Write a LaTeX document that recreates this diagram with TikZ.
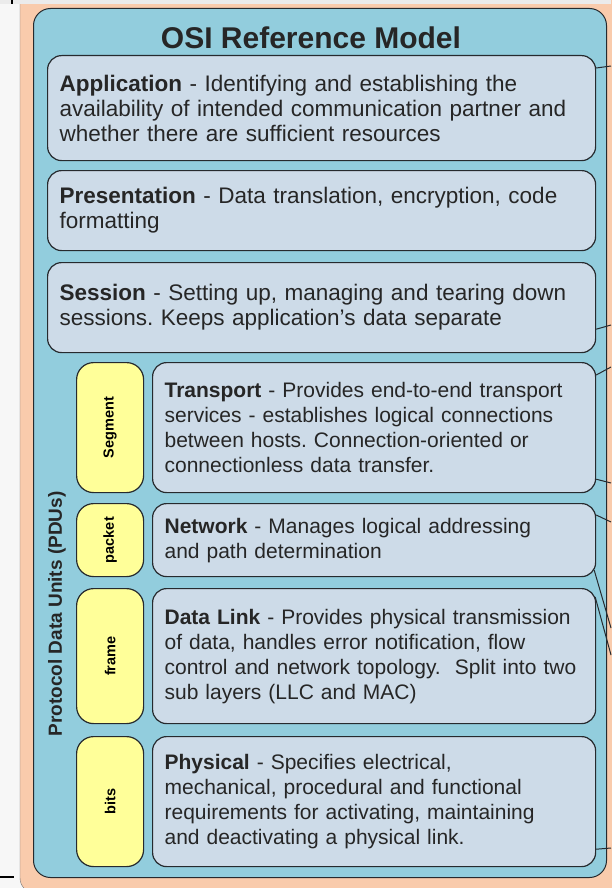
\documentclass[tikz,border=0pt]{standalone}
\usepackage{fontspec}
\usepackage{graphicx}
\setmainfont{Liberation Sans}
\usetikzlibrary{calc}
\definecolor{peach}{RGB}{249,203,172}
\definecolor{osiblue}{RGB}{146,205,221}
\definecolor{layerfill}{RGB}{205,219,232}
\definecolor{pduyellow}{RGB}{255,255,153}
\definecolor{edge}{RGB}{38,42,46}
\newcommand{\lay}[1]{\textbf{#1}}
\newcommand{\pdutext}[1]{\rotatebox{90}{#1}}
\tikzset{
  layer/.style={draw=edge, fill=layerfill, rounded corners=14pt, line width=1.2pt,
    anchor=north west, align=left, inner xsep=12pt, text=black!85,
    font=\fontsize{21}{25}\selectfont},
  toplayer/.style={layer, font=\fontsize{22.5}{25}\selectfont},
  pdu/.style={draw=edge, fill=pduyellow, rounded corners=17pt, line width=1.2pt,
    anchor=north west, minimum width=67pt, inner sep=0pt,
    font=\bfseries\fontsize{14.5}{16}\selectfont},
  link/.style={draw=edge, line width=1pt}
}
\frenchspacing

\begin{document}
\begin{tikzpicture}[x=1pt,y=-1pt]
\useasboundingbox (0,0) rectangle (611,888);
\fill [white!97!black] (0,0) rectangle (611,888);
\draw [fill=peach, draw=black!55, rounded corners=15pt] (20,-20) rectangle (640,893);
\fill [black!8] (0,0) rectangle (611,4);
\draw [line width=1.5pt] (12,0) -- (12,4);
\draw [line width=1.5pt] (0,877) -- (14,877);
\node [draw=edge, fill=osiblue, rounded corners=17pt, line width=1pt, anchor=north west,
  minimum width=573pt, minimum height=869pt, inner sep=0pt] (osi) at (33,8) {};
\node [font=\bfseries\fontsize{30}{31}\selectfont, text=black!85] (title) at (311,38) {OSI Reference Model};
% layers
\node [toplayer, text width=524pt, minimum height=105pt] (app) at (47,55)
  {\lay{Application} - Identifying and establishing the\\availability of intended communication partner and\\whether there are sufficient resources};
\node [toplayer, text width=524pt, minimum height=80pt] (pres) at (47,170)
  {\lay{Presentation} - Data translation, encryption, code\\formatting};
\node [toplayer, text width=524pt, minimum height=90pt] (sess) at (47,262)
  {\lay{Session} - Setting up, managing and tearing down\\sessions. Keeps application's data separate};
\node [layer, text width=419pt, minimum height=130pt] (trans) at (152,362)
  {\lay{Transport} - Provides end-to-end transport\\services - establishes logical connections\\between hosts. Connection-oriented or\\connectionless data transfer.};
\node [layer, text width=419pt, minimum height=73pt] (net) at (152,503)
  {\lay{Network} - Manages logical addressing\\and path determination};
\node [layer, text width=419pt, minimum height=135pt] (dlink) at (152,588)
  {\lay{Data Link} - Provides physical transmission\\of data, handles error notification, flow\\control and network topology.\ \ Split into two\\sub layers (LLC and MAC)};
\node [layer, text width=419pt, minimum height=130pt] (phys) at (152,736)
  {\lay{Physical} - Specifies electrical,\\mechanical, procedural and functional\\requirements for activating, maintaining\\and deactivating a physical link.};
% PDUs
\node [pdu, minimum height=130pt] (seg) at (76,362) {\pdutext{Segment}};
\node [pdu, minimum height=73pt] (pkt) at (76,503) {\pdutext{packet}};
\node [pdu, minimum height=135pt] (frm) at (76,588) {\pdutext{frame}};
\node [pdu, minimum height=130pt] (bits) at (76,736) {\pdutext{bits}};
\node [rotate=90, font=\bfseries\fontsize{19}{20}\selectfont, text=black!85] (units) at (57,614) {Protocol Data Units (PDUs)};
% lines out to the right
\coordinate (r1) at (611,66);
\coordinate (r2) at (611,325);
\coordinate (r3) at (611,367);
\coordinate (r4) at (611,483);
\coordinate (r5) at (611,522);
\coordinate (r6) at (611,628);
\coordinate (r7) at (611,655);
\coordinate (r8) at (611,848);
\draw [link] ($(app.north east)+(0,13)$) -- (r1);
\draw [link] ($(sess.south east)+(0,-24)$) -- (r2);
\draw [link] ($(trans.north east)+(0,13)$) -- (r3);
\draw [link] ($(trans.south east)+(0,-14)$) -- (r4);
\draw [link] ($(net.north east)+(0,12)$) -- (r5);
\draw [link] ($(net.south east)+(-2,-7)$) -- (r6);
\draw [link] ($(dlink.north east)+(-1,9)$) -- (r7);
\draw [link] ($(phys.south east)+(0,-18)$) -- (r8);
\end{tikzpicture}
\end{document}
